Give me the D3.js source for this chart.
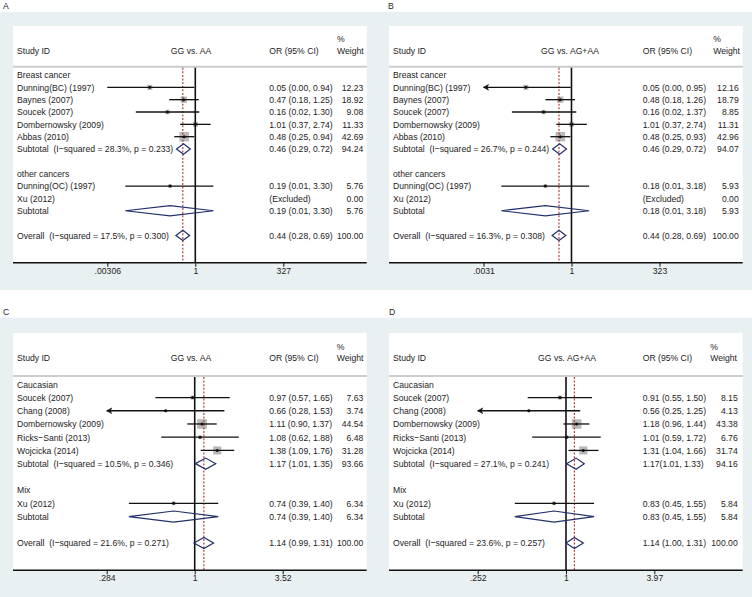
<!DOCTYPE html>
<html>
<head>
<meta charset="utf-8">
<title>Forest plots</title>
<style>
body { margin: 0; background: #fff; }
svg { display: block; font-family: "Liberation Sans", Arial, sans-serif; font-size: 9.6px; }
text { fill: #1c1c1c; white-space: pre; }
</style>
<script src="https://d3js.org/d3.v7.min.js"></script>
</head>
<body>
<svg id="chart" width="752" height="597"></svg>
<script>
// row kinds: h = group heading, s = study, x = excluded study, d = pooled (diamond), "" = spacer
const kindAB = ["h", "s", "s", "s", "s", "s", "d", "", "h", "s", "x", "d", "", "d"];
const kindCD = ["h", "s", "s", "s", "s", "s", "d", "", "h", "s", "d", "", "d"];

// panel A: GG vs. AA
const studyA = ["Breast cancer", "Dunning(BC) (1997)", "Baynes (2007)", "Soucek (2007)", "Dombernowsky (2009)", "Abbas (2010)",
  "Subtotal  (I\u2212squared = 28.3%, p = 0.233)", "", "other cancers", "Dunning(OC) (1997)", "Xu (2012)", "Subtotal", "",
  "Overall  (I\u2212squared = 17.5%, p = 0.300)"];
const orA = [null, 0.05, 0.47, 0.16, 1.01, 0.48, 0.46, null, null, 0.19, null, 0.19, null, 0.44];
const loA = [null, 0.00306, 0.18, 0.02, 0.37, 0.25, 0.29, null, null, 0.01, null, 0.01, null, 0.28];
const hiA = [null, 0.94, 1.25, 1.30, 2.74, 0.94, 0.72, null, null, 3.30, null, 3.30, null, 0.69];
const ciA = ["", "0.05 (0.00, 0.94)", "0.47 (0.18, 1.25)", "0.16 (0.02, 1.30)", "1.01 (0.37, 2.74)", "0.48 (0.25, 0.94)",
  "0.46 (0.29, 0.72)", "", "", "0.19 (0.01, 3.30)", "(Excluded)", "0.19 (0.01, 3.30)", "", "0.44 (0.28, 0.69)"];
const wtA = [null, 12.23, 18.92, 9.08, 11.33, 42.69, 94.24, null, null, 5.76, 0.00, 5.76, null, 100.00];
const ticksA = [0.00306, 1, 327];
const tickTextA = [".00306", "1", "327"];

// panel B: GG vs. AG+AA
const studyB = ["Breast cancer", "Dunning(BC) (1997)", "Baynes (2007)", "Soucek (2007)", "Dombernowsky (2009)", "Abbas (2010)",
  "Subtotal  (I\u2212squared = 26.7%, p = 0.244)", "", "other cancers", "Dunning(OC) (1997)", "Xu (2012)", "Subtotal", "",
  "Overall  (I\u2212squared = 16.3%, p = 0.308)"];
const orB = [null, 0.05, 0.48, 0.16, 1.01, 0.48, 0.46, null, null, 0.18, null, 0.18, null, 0.44];
const loB = [null, 0.0029, 0.18, 0.02, 0.37, 0.25, 0.29, null, null, 0.01, null, 0.01, null, 0.28];
const hiB = [null, 0.95, 1.26, 1.37, 2.74, 0.93, 0.72, null, null, 3.18, null, 3.18, null, 0.69];
const ciB = ["", "0.05 (0.00, 0.95)", "0.48 (0.18, 1.26)", "0.16 (0.02, 1.37)", "1.01 (0.37, 2.74)", "0.48 (0.25, 0.93)",
  "0.46 (0.29, 0.72)", "", "", "0.18 (0.01, 3.18)", "(Excluded)", "0.18 (0.01, 3.18)", "", "0.44 (0.28, 0.69)"];
const wtB = [null, 12.16, 18.79, 8.85, 11.31, 42.96, 94.07, null, null, 5.93, 0.00, 5.93, null, 100.00];
const ticksB = [0.0031, 1, 323];
const tickTextB = [".0031", "1", "323"];

// panel C: GG vs. AA
const studyC = ["Caucasian", "Soucek (2007)", "Chang (2008)", "Dombernowsky (2009)", "Ricks\u2212Santi (2013)", "Wojcicka (2014)",
  "Subtotal  (I\u2212squared = 10.5%, p = 0.346)", "", "Mix", "Xu (2012)", "Subtotal", "",
  "Overall  (I\u2212squared = 21.6%, p = 0.271)"];
const orC = [null, 0.97, 0.66, 1.11, 1.08, 1.38, 1.17, null, null, 0.74, 0.74, null, 1.14];
const loC = [null, 0.57, 0.28, 0.90, 0.62, 1.09, 1.01, null, null, 0.39, 0.39, null, 0.99];
const hiC = [null, 1.65, 1.53, 1.37, 1.88, 1.76, 1.35, null, null, 1.40, 1.40, null, 1.31];
const ciC = ["", "0.97 (0.57, 1.65)", "0.66 (0.28, 1.53)", "1.11 (0.90, 1.37)", "1.08 (0.62, 1.88)", "1.38 (1.09, 1.76)",
  "1.17 (1.01, 1.35)", "", "", "0.74 (0.39, 1.40)", "0.74 (0.39, 1.40)", "", "1.14 (0.99, 1.31)"];
const wtC = [null, 7.63, 3.74, 44.54, 6.48, 31.28, 93.66, null, null, 6.34, 6.34, null, 100.00];
const ticksC = [0.284, 1, 3.52];
const tickTextC = [".284", "1", "3.52"];

// panel D: GG vs. AG+AA
const studyD = ["Caucasian", "Soucek (2007)", "Chang (2008)", "Dombernowsky (2009)", "Ricks\u2212Santi (2013)", "Wojcicka (2014)",
  "Subtotal  (I\u2212squared = 27.1%, p = 0.241)", "", "Mix", "Xu (2012)", "Subtotal", "",
  "Overall  (I\u2212squared = 23.6%, p = 0.257)"];
const orD = [null, 0.91, 0.56, 1.18, 1.01, 1.31, 1.17, null, null, 0.83, 0.83, null, 1.14];
const loD = [null, 0.55, 0.25, 0.96, 0.59, 1.04, 1.01, null, null, 0.45, 0.45, null, 1.00];
const hiD = [null, 1.50, 1.25, 1.44, 1.72, 1.66, 1.33, null, null, 1.55, 1.55, null, 1.31];
const ciD = ["", "0.91 (0.55, 1.50)", "0.56 (0.25, 1.25)", "1.18 (0.96, 1.44)", "1.01 (0.59, 1.72)", "1.31 (1.04, 1.66)",
  "1.17(1.01, 1.33)", "", "", "0.83 (0.45, 1.55)", "0.83 (0.45, 1.55)", "", "1.14 (1.00, 1.31)"];
const wtD = [null, 8.15, 4.13, 43.38, 6.76, 31.74, 94.16, null, null, 5.84, 5.84, null, 100.00];
const ticksD = [0.252, 1, 3.97];
const tickTextD = [".252", "1", "3.97"];

const svg = d3.select("#chart");
const sx = 0.9;           // glyphs in the picture are a bit narrower than tall
const grey = "#e9f0f1";

// vertical layout of the two rows of panels
const rowTop = { g0: 12, g1: 290, w0: 26, pct: 38.3, head: 50.7, sep: 66.7, axis: 262.7 };
const rowBot = { g0: 317.7, g1: 597, w0: 333, pct: 346.3, head: 357.7, sep: 376, axis: 570.3 };

const panels = [
  { id: "A", title: "GG vs. AA", ox: 0, lay: rowTop, lx: 3, x0: 107.3, x1: 283.3, headX: 191, orX: 269.3, wR: 363.3, wH: 337,
    kind: kindAB, study: studyA, or: orA, lo: loA, hi: hiA, ci: ciA, wt: wtA, ticks: ticksA, tickText: tickTextA },
  { id: "B", title: "GG vs. AG+AA", ox: 376, lay: rowTop, lx: 12, x0: 107.5, x1: 283.5, headX: 194, orX: 266.7, wR: 362.7, wH: 337.3,
    kind: kindAB, study: studyB, or: orB, lo: loB, hi: hiB, ci: ciB, wt: wtB, ticks: ticksB, tickText: tickTextB },
  { id: "C", title: "GG vs. AA", ox: 0, lay: rowBot, lx: 3, x0: 106.7, x1: 282.7, headX: 191, orX: 269.3, wR: 363.3, wH: 336.7,
    kind: kindCD, study: studyC, or: orC, lo: loC, hi: hiC, ci: ciC, wt: wtC, ticks: ticksC, tickText: tickTextC },
  { id: "D", title: "GG vs. AG+AA", ox: 376, lay: rowBot, lx: 13, x0: 101.7, x1: 278.3, headX: 191, orX: 266.7, wR: 361.7, wH: 334.3,
    kind: kindCD, study: studyD, or: orD, lo: loD, hi: hiD, ci: ciD, wt: wtD, ticks: ticksD, tickText: tickTextD }
];

function label(g, x, y, str, anchor) {
  return g.append("text")
    .attr("transform", `translate(${x},${y}) scale(${sx},1)`)
    .attr("text-anchor", anchor || "start")
    .attr("dy", "0.35em")
    .text(str);
}

function drawPanel(p) {
  const L = p.lay;
  const g = svg.append("g").attr("transform", `translate(${p.ox},0)`);
  const n = p.study.length;

  // backgrounds
  g.append("rect").attr("x", 0).attr("y", L.g0).attr("width", 376).attr("height", L.g1 - L.g0).attr("fill", grey);
  g.append("rect").attr("x", 13).attr("y", L.w0).attr("width", 353.7).attr("height", L.axis - L.w0).attr("fill", "#fff");

  label(g, p.lx, L.g0 - 6.5, p.id);

  const x = d3.scaleLog().domain([p.ticks[0], p.ticks[2]]).range([p.x0, p.x1]);
  const y = d3.scaleLinear().domain([0, n - 1]).range([L.sep + 8.3, L.axis - 27.3]);
  const dMin = p.ticks[0], dMax = p.ticks[2];

  // header
  label(g, 17, L.head, "Study ID");
  label(g, p.headX, L.head, p.title, "middle");
  label(g, p.orX, L.head, "OR (95% CI)");
  label(g, p.wH, L.pct, "%");
  label(g, p.wH, L.head, "Weight");
  g.append("line").attr("x1", 13).attr("x2", 366.7).attr("y1", L.sep).attr("y2", L.sep)
    .attr("stroke", "#cdcdcd").attr("stroke-width", 2);

  const rows = d3.range(n);
  const studies = rows.filter(i => p.kind[i] === "s");
  const pooled = rows.filter(i => p.kind[i] === "d");

  // weight boxes
  g.selectAll("rect.box").data(studies).join("rect").attr("class", "box")
    .attr("x", i => x(p.or[i]) - 0.725 * Math.sqrt(p.wt[i]))
    .attr("y", i => y(i) - 0.725 * Math.sqrt(p.wt[i]))
    .attr("width", i => 1.45 * Math.sqrt(p.wt[i]))
    .attr("height", i => 1.45 * Math.sqrt(p.wt[i]))
    .attr("fill", "#b9b9b9");

  // no-effect line and overall estimate line
  g.append("line").attr("x1", x(1)).attr("x2", x(1)).attr("y1", L.sep + 1).attr("y2", L.axis)
    .attr("stroke", "#111").attr("stroke-width", 1.6);
  const overall = p.or[n - 1];
  g.append("line").attr("x1", x(overall)).attr("x2", x(overall)).attr("y1", L.sep + 1).attr("y2", L.axis)
    .attr("stroke", "#a8322d").attr("stroke-width", 1.1).attr("stroke-dasharray", "2,1.6");

  // confidence intervals
  g.selectAll("line.ci").data(studies).join("line").attr("class", "ci")
    .attr("x1", i => x(Math.max(p.lo[i], dMin)))
    .attr("x2", i => x(Math.min(p.hi[i], dMax)))
    .attr("y1", i => y(i)).attr("y2", i => y(i))
    .attr("stroke", "#111").attr("stroke-width", 1.3);
  g.selectAll("path.arrow").data(studies.filter(i => p.lo[i] < dMin)).join("path").attr("class", "arrow")
    .attr("d", i => {
      const ax = x(dMin), ay = y(i);
      return `M${ax},${ay} L${ax + 5},${ay - 2.8} L${ax + 3.6},${ay} L${ax + 5},${ay + 2.8} Z`;
    })
    .attr("fill", "#111").attr("stroke", "#111").attr("stroke-width", 0.6);
  g.selectAll("circle.pt").data(studies).join("circle").attr("class", "pt")
    .attr("cx", i => x(p.or[i])).attr("cy", i => y(i)).attr("r", 1.5).attr("fill", "#111");

  // pooled estimates
  const h = 0.42 * (y(1) - y(0));
  g.selectAll("path.dia").data(pooled).join("path").attr("class", "dia")
    .attr("d", i => `M${x(p.lo[i])},${y(i)} L${x(p.or[i])},${y(i) - h} L${x(p.hi[i])},${y(i)} L${x(p.or[i])},${y(i) + h} Z`)
    .attr("fill", "none").attr("stroke", "#22306b").attr("stroke-width", 1.2);

  // text columns
  rows.forEach(i => {
    if (p.study[i]) label(g, 17, y(i), p.study[i]);
    if (p.ci[i]) label(g, p.orX, y(i), p.ci[i]);
    if (p.wt[i] !== null) label(g, p.wR, y(i), d3.format(".2f")(p.wt[i]), "end");
  });

  // axis
  g.append("line").attr("x1", 13).attr("x2", 366.7).attr("y1", L.axis).attr("y2", L.axis)
    .attr("stroke", "#111").attr("stroke-width", 1.4);
  const ax = g.append("g").attr("transform", `translate(0,${L.axis})`)
    .call(d3.axisBottom(x).tickValues(p.ticks).tickFormat((d, i) => p.tickText[i]).tickSize(4).tickPadding(0));
  ax.select(".domain").remove();
  ax.selectAll(".tick line").attr("stroke", "#111").attr("stroke-width", 1);
  ax.selectAll(".tick text").attr("font-size", 9.6).attr("font-family", "Liberation Sans, Arial, sans-serif")
    .attr("fill", "#1c1c1c").attr("transform", `scale(${sx},1)`);
}

panels.forEach(drawPanel);
</script>
</body>
</html>
